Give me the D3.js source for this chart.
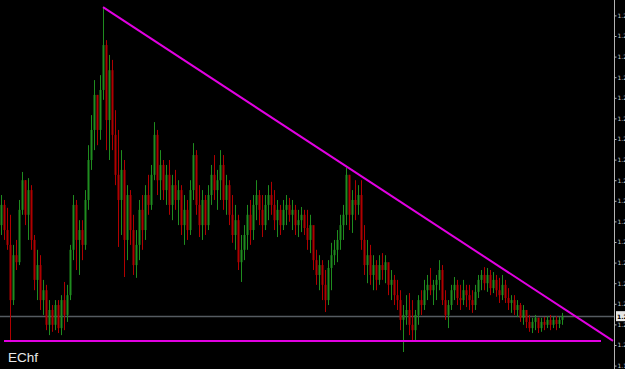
<!DOCTYPE html>
<html lang="en">
<head>
  <meta charset="UTF-8">
  <title>EChf</title>
  <script src="https://d3js.org/d3.v7.min.js"></script>
  <style>
    html, body { margin: 0; padding: 0; background: #000; overflow: hidden; }
  </style>
</head>
<body>
  <svg id="chart"></svg>
  <script>
    // prices are kept in pips above the 1.2000 base
    const base = 1.2;
    const symbol = "EChf";
    const firstOpen = 29.1;

    const hi = [36.4,35.2,33.3,31.6,24.3,25.5,35.2,42.0,40.0,40.5,
      38.8,26.7,23.1,21.8,15.8,14.6,10.9,9.7,10.9,10.9,
      12.1,15.3,14.6,24.3,36.4,35.2,30.3,30.3,37.6,48.5,
      55.8,64.3,60.7,65.5,82.0,74.0,70.4,69.2,57.0,52.2,
      47.3,44.9,38.8,37.6,31.6,27.9,35.2,36.4,38.8,41.3,
      43.7,54.1,52.2,47.3,44.9,43.7,44.9,41.3,42.5,40.0,
      38.8,36.4,35.2,40.0,49.0,47.3,38.8,37.6,36.4,38.8,
      43.7,46.1,42.5,47.3,46.1,41.3,40.0,36.4,34.0,31.6,
      26.7,29.1,34.0,35.2,36.4,40.0,37.6,36.4,36.4,38.8,
      39.6,37.6,35.2,34.0,35.2,36.4,35.7,35.2,34.0,32.8,
      33.5,32.8,32.8,31.6,27.9,23.1,21.8,20.6,18.2,20.6,
      24.8,25.5,27.9,31.6,34.0,43.0,41.3,37.6,40.0,38.8,
      40.0,29.1,25.5,24.3,21.8,20.6,21.8,22.3,21.8,19.4,
      18.2,17.0,15.8,13.3,9.7,12.1,12.6,10.9,8.5,12.1,
      13.3,15.8,17.0,18.7,15.8,17.0,20.6,19.4,13.3,10.9,
      14.6,16.5,15.8,14.6,15.8,14.6,14.6,13.3,14.6,17.0,
      18.2,18.9,18.7,18.2,17.7,17.0,16.3,17.0,15.8,13.8,
      12.1,12.1,10.9,10.2,9.7,8.5,7.3,6.6,7.3,6.6,
      6.6,6.8,7.0,7.3,6.8,7.0,6.8,7.8];

    const lo = [26.7,25.5,23.1,0.7,9.7,18.2,19.4,31.6,29.1,25.5,
      23.1,13.3,10.9,8.5,7.3,3.6,2.4,3.2,3.6,2.9,
      2.4,3.6,5.6,10.9,20.6,18.2,17.0,20.6,23.1,32.8,
      42.5,47.3,48.5,49.8,59.5,47.3,44.9,47.3,38.8,23.8,
      26.7,16.5,20.6,24.3,17.0,16.3,20.6,23.1,25.5,31.6,
      32.8,40.0,36.4,35.2,35.2,34.0,31.6,30.3,32.8,29.1,
      26.7,24.3,25.5,26.7,35.2,31.6,26.2,25.5,26.7,27.9,
      34.0,35.2,32.8,35.2,32.8,31.6,29.1,24.8,23.1,18.2,
      15.3,20.6,23.1,24.3,25.5,30.3,29.1,26.2,27.9,30.3,
      31.6,27.9,26.2,26.7,27.9,29.1,29.9,27.9,26.7,26.2,
      27.4,26.7,23.1,22.3,18.2,14.6,13.3,10.9,8.0,9.7,
      13.3,19.4,20.1,23.1,25.5,29.1,27.9,27.2,30.3,31.6,
      23.1,17.0,15.0,14.6,13.3,13.3,14.6,15.8,15.0,12.1,
      10.9,9.7,8.5,3.6,-1.7,4.9,2.4,1.2,1.2,4.9,
      7.3,8.5,10.9,12.1,9.7,10.9,13.3,9.7,6.1,4.1,
      8.5,10.9,9.7,8.5,9.7,9.2,8.5,7.8,8.5,11.4,
      13.3,13.3,12.9,12.1,12.6,11.7,10.2,10.9,10.2,8.5,
      7.8,7.3,6.8,5.6,4.9,4.1,3.2,2.9,3.6,2.9,
      3.2,3.6,4.1,3.6,4.1,3.6,4.1,4.9];

    const cl = [34.0,27.9,24.3,10.9,21.8,20.1,32.8,40.0,31.6,37.6,
      25.5,15.8,19.4,10.9,13.3,4.9,8.5,4.9,9.7,4.1,
      10.9,7.3,12.1,23.1,34.0,25.5,27.9,24.3,35.2,44.9,
      52.2,60.7,52.2,61.9,72.8,54.6,66.7,51.0,41.3,35.2,
      42.5,25.5,36.4,27.9,19.4,24.3,32.8,27.9,36.4,34.0,
      41.3,51.0,40.0,43.7,37.6,41.3,34.0,38.8,35.2,37.6,
      29.1,32.8,27.9,37.6,46.1,34.0,29.1,35.2,29.1,36.4,
      41.3,37.6,40.0,43.7,35.2,38.8,31.6,26.7,30.3,20.1,
      23.1,26.7,31.6,27.9,34.0,36.4,32.8,29.1,34.0,36.4,
      34.0,30.3,32.8,29.1,32.8,34.0,31.6,32.8,29.1,30.3,
      31.6,28.4,25.5,29.1,20.6,17.0,19.4,14.6,10.9,18.7,
      21.8,23.1,25.5,29.1,31.6,41.3,31.6,35.2,34.0,36.4,
      25.5,19.4,21.8,17.0,19.4,15.8,19.4,18.2,20.1,14.6,
      15.8,12.1,10.9,6.1,7.3,8.5,4.9,3.6,7.3,10.9,
      9.7,13.3,14.6,13.3,14.6,15.8,18.2,10.9,7.3,9.7,
      13.3,14.6,11.4,10.9,13.3,12.1,10.9,9.7,12.9,15.8,
      17.0,15.0,17.0,13.8,15.8,13.3,12.1,14.6,11.4,10.2,
      10.9,8.5,9.7,6.6,8.5,5.6,4.1,5.6,6.6,4.1,
      5.6,4.9,6.1,4.9,6.1,5.1,6.1,7.0];

    const tickPips = d3.range(-5, 81, 5);

    // hand drawn lines: [bar index, pips]
    const resistance = [[34, 82.0], [204, 1.0]];
    const support = [[1, 1.0], [200, 1.0]];

    const width = 625, height = 369;
    const axisX = 614;

    const bars = cl.map((c, i) => ({
      i: i,
      open: i === 0 ? firstOpen : cl[i - 1],
      high: hi[i],
      low: lo[i],
      close: c
    }));

    const svg = d3.select("#chart")
      .attr("width", width)
      .attr("height", height)
      .style("display", "block")
      .style("background", "#000");

    const x = d3.scaleLinear().domain([0, 204]).range([1, 613]);
    const y = d3.scaleLinear().domain([-5, 80]).range([365.6, 15.4]);

    const up = "#1f8c1f", down = "#b00000";

    // last price line
    const last = cl[cl.length - 1];
    svg.append("line")
      .attr("x1", 0).attr("x2", axisX)
      .attr("y1", Math.round(y(last)) + 0.5).attr("y2", Math.round(y(last)) + 0.5)
      .attr("stroke", "#555b61")
      .attr("stroke-width", 1.5);

    const candle = svg.append("g").selectAll("g")
      .data(bars)
      .enter()
      .append("g")
      .attr("fill", d => d.close >= d.open ? up : down)
      .attr("stroke", d => d.close >= d.open ? up : down);

    candle.append("line")
      .attr("x1", d => Math.round(x(d.i)) + 0.5)
      .attr("x2", d => Math.round(x(d.i)) + 0.5)
      .attr("y1", d => y(d.high))
      .attr("y2", d => y(d.low))
      .attr("stroke-width", 1);

    candle.append("rect")
      .attr("x", d => Math.round(x(d.i)) - 0.5)
      .attr("width", 2)
      .attr("y", d => y(Math.max(d.open, d.close)))
      .attr("height", d => Math.max(1, Math.abs(y(d.open) - y(d.close))))
      .attr("stroke", "none");

    // trend lines
    const line = d3.line().x(d => x(d[0])).y(d => y(d[1]));
    [resistance, support].forEach(pts => {
      svg.append("path")
        .attr("d", line(pts))
        .attr("fill", "none")
        .attr("stroke", "#e100e1")
        .attr("stroke-width", 2);
    });

    // price axis on the right
    const yAxis = d3.axisRight(y)
      .tickValues(tickPips)
      .tickSize(2)
      .tickPadding(1)
      .tickFormat(d => (base + d / 10000).toFixed(4));

    const ax = svg.append("g")
      .attr("transform", `translate(${axisX + 0.5},0)`)
      .call(yAxis);
    ax.select(".domain").attr("stroke", "#b4b4b4").attr("d", `M0,0V${height}`);
    ax.selectAll(".tick line").attr("stroke", "#b4b4b4");
    ax.selectAll(".tick text")
      .attr("fill", "#c8c8c8")
      .style("font", "6px 'DejaVu Sans'");

    // last price label
    svg.append("rect")
      .attr("x", axisX + 2).attr("y", y(last) - 5)
      .attr("width", 40).attr("height", 10)
      .attr("fill", "#e6e6e6");
    svg.append("text")
      .attr("x", axisX + 3).attr("y", y(last) + 2.5)
      .attr("fill", "#000")
      .style("font", "bold 6px 'DejaVu Sans'")
      .text((base + last / 10000).toFixed(4));

    svg.append("text")
      .attr("x", 8).attr("y", 362)
      .attr("fill", "#e8e8e8")
      .style("font", "13.5px 'Liberation Sans'")
      .text(symbol);
  </script>
</body>
</html>
